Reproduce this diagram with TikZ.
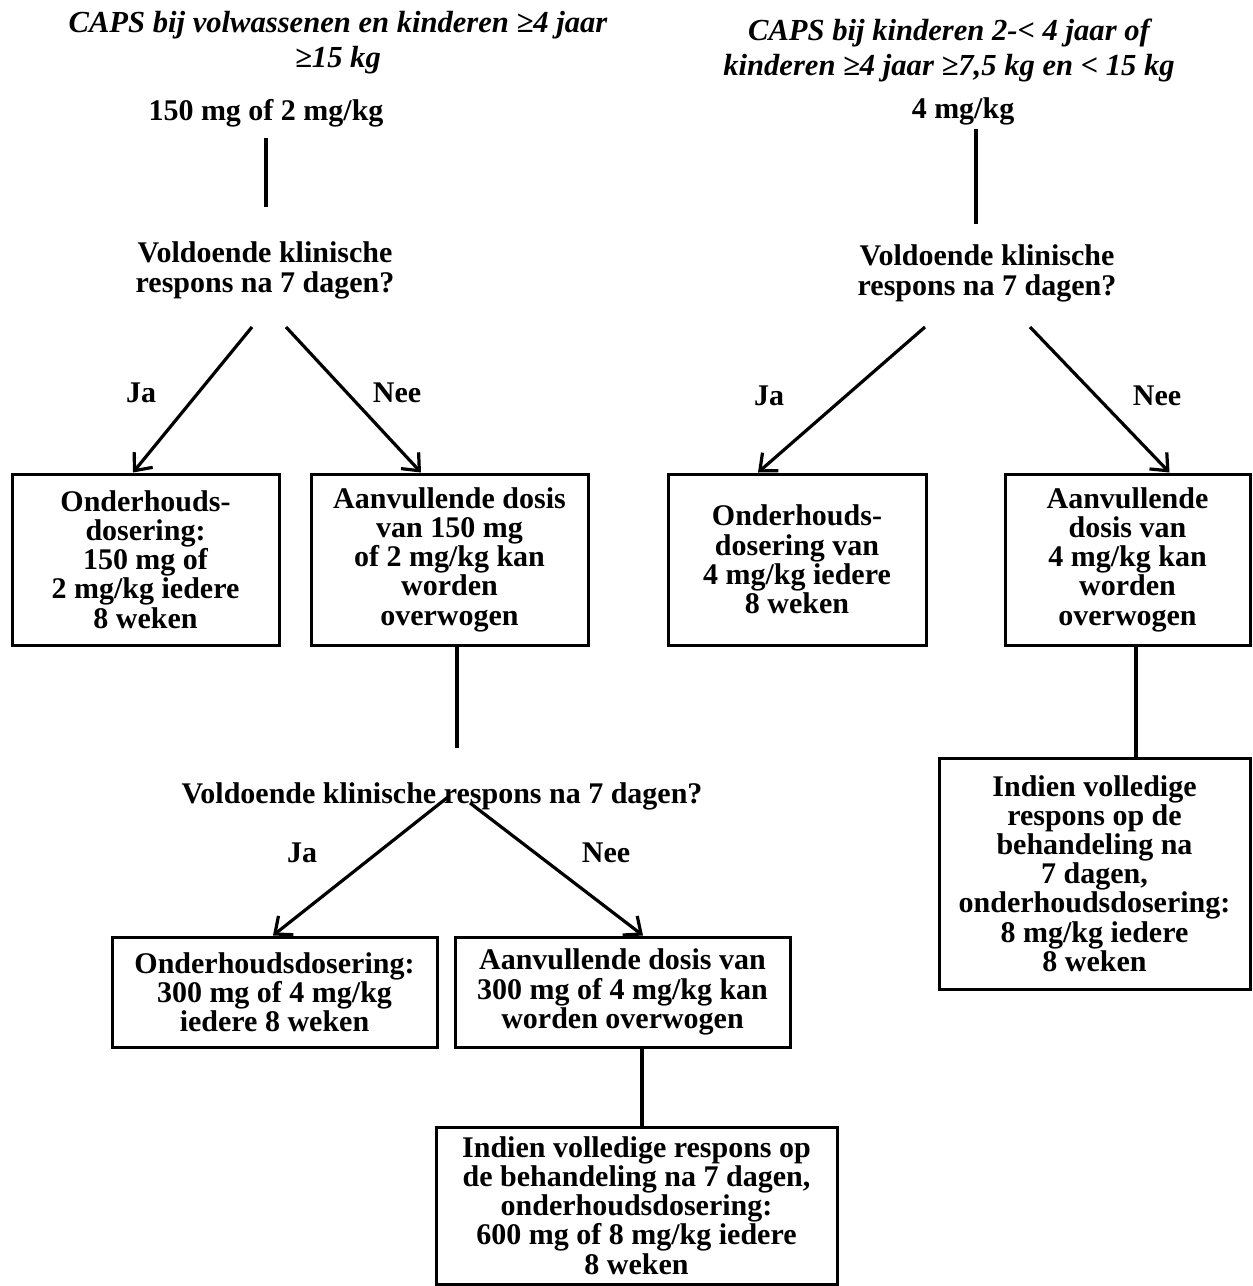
\documentclass[tikz,border=0pt]{standalone}
\usepackage{fontspec}
\setmainfont{Liberation Serif}
\usetikzlibrary{arrows.meta}
\begin{document}
\begin{tikzpicture}[x=0.5pt,y=-0.5pt,
  txt/.style={font=\fontsize{15}{14.6}\selectfont\bfseries, align=center, inner sep=0pt},
  ttl/.style={font=\fontsize{15.3}{17.5}\selectfont\bfseries\itshape, align=center, inner sep=0pt},
  box/.style={draw, line width=1.5pt, font=\fontsize{15}{14.6}\selectfont\bfseries, align=center, inner sep=0pt},
  ln/.style={line width=1.6pt},
  arr/.style={line width=1.6pt, -{Straight Barb[length=7pt,width=12pt]}}]
\useasboundingbox (0,0) rectangle (1253,1286);

% titles and doses (base = baseline of last line)
\node[ttl, anchor=base] (t1) at (338,67) {CAPS bij volwassenen en kinderen ≥4 jaar\\≥15 kg};
\node[ttl, anchor=base] (t2) at (949,75) {CAPS bij kinderen 2-< 4 jaar of\\kinderen ≥4 jaar ≥7,5 kg en < 15 kg};
\node[txt, anchor=base] (d1) at (266,120) {150 mg of 2 mg/kg};
\node[txt, anchor=base] (d2) at (963,118) {4 mg/kg};

% questions
\node[txt, anchor=base] (q1) at (265,292) {Voldoende klinische\\respons na 7 dagen?};
\node[txt, anchor=base] (q2) at (987,295) {Voldoende klinische\\respons na 7 dagen?};
\node[txt, anchor=base] (q3) at (442,803) {Voldoende klinische respons na 7 dagen?};

% labels
\node[txt, anchor=base] (ja1) at (141,402) {Ja};
\node[txt, anchor=base] (nee1) at (397,402) {Nee};
\node[txt, anchor=base] (ja2) at (769,405) {Ja};
\node[txt, anchor=base] (nee2) at (1157,405) {Nee};
\node[txt, anchor=base] (ja3) at (302,862) {Ja};
\node[txt, anchor=base] (nee3) at (606,862) {Nee};

% boxes
\node[box, minimum width=133.5pt, minimum height=85.5pt] (b1) at (145.5,559.5)
  {Onderhouds-\\dosering:\\150 mg of\\2 mg/kg iedere\\8 weken};
\node[box, minimum width=138.5pt, minimum height=85.5pt] (b2) at (449.5,559.5)
  {Aanvullende dosis\\van 150 mg\\of 2 mg/kg kan\\worden\\overwogen};
\node[box, minimum width=129pt, minimum height=85.5pt] (b3) at (797,559.5)
  {Onderhouds-\\dosering van\\4 mg/kg iedere\\8 weken};
\node[box, minimum width=122.5pt, minimum height=85.5pt] (b4) at (1127.5,559.5)
  {Aanvullende\\dosis van\\4 mg/kg kan\\worden\\overwogen};
\node[box, minimum width=162.5pt, minimum height=55pt] (b5) at (274.5,992)
  {Onderhoudsdosering:\\300 mg of 4 mg/kg\\iedere 8 weken};
\node[box, minimum width=167.5pt, minimum height=55pt] (b6) at (622.5,992)
  {Aanvullende dosis van\\300 mg of 4 mg/kg kan\\worden overwogen};
\node[box, minimum width=200.5pt, minimum height=78.5pt] (b7) at (636.5,1205.5)
  {Indien volledige respons op\\de behandeling na 7 dagen,\\onderhoudsdosering:\\600 mg of 8 mg/kg iedere\\8 weken};
\node[box, minimum width=155.5pt, minimum height=115.5pt] (b8) at (1094.5,873.5)
  {Indien volledige\\respons op de\\behandeling na\\7 dagen,\\onderhoudsdosering:\\8 mg/kg iedere\\8 weken};

% free ends of connectors
\coordinate (d1a) at (266,138);
\coordinate (d1b) at (266,207);
\coordinate (d2a) at (976,129);
\coordinate (d2b) at (976,224);
\coordinate (q1l) at (252,327);
\coordinate (q1r) at (286,327);
\coordinate (q2l) at (925,327);
\coordinate (q2r) at (1030,327);
\coordinate (q3l) at (448,797);
\coordinate (q3r) at (470,803);
\coordinate (b2e) at (457,748);

% connectors
\draw[ln] (d1a) -- (d1b);
\draw[ln] (d2a) -- (d2b);
\draw[arr] (q1l) -- ([xshift=-6.25pt]b1.north);
\draw[arr] (q1r) -- ([xshift=-14.25pt]b2.north);
\draw[arr] (q2l) -- ([xshift=-19.5pt]b3.north);
\draw[arr] (q2r) -- ([xshift=21pt]b4.north);
\draw[ln] (b2.south -| b2e) -- (b2e);
\draw[arr] (q3l) -- ([xshift=-0.75pt]b5.north);
\draw[arr] (q3r) -- ([xshift=10.25pt]b6.north);
\draw[ln] ([xshift=9.75pt]b6.south) -- ([xshift=2.75pt]b7.north);
\draw[ln] ([xshift=4.25pt]b4.south) -- ([xshift=20.75pt]b8.north);
\end{tikzpicture}
\end{document}
